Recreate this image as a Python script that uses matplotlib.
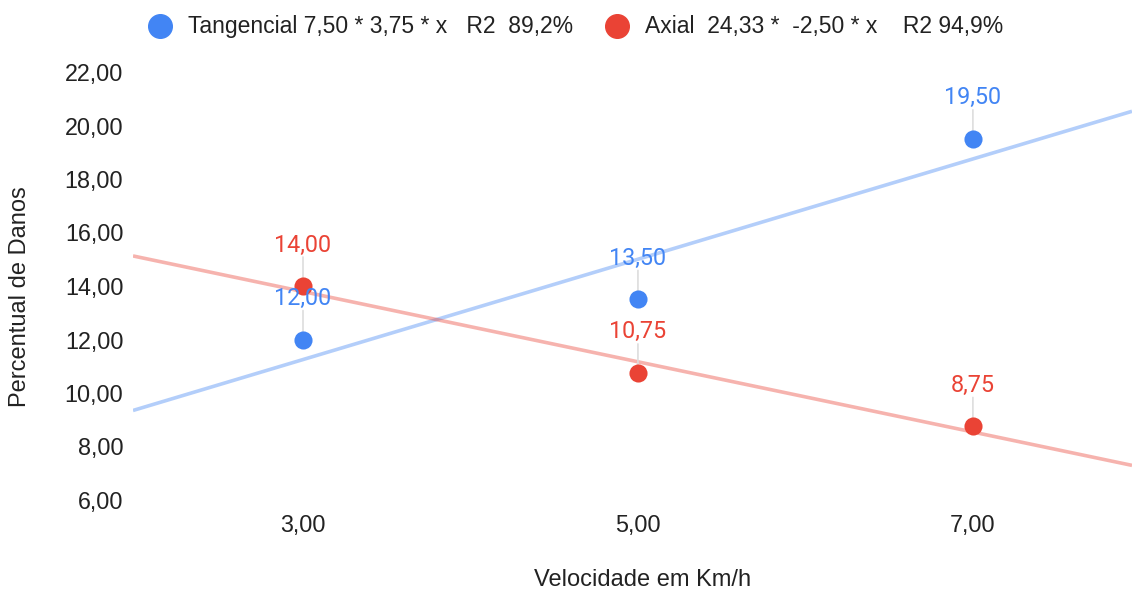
import numpy as np
import matplotlib
matplotlib.use("Agg")
import matplotlib.pyplot as plt
from matplotlib.lines import Line2D

plt.rcParams['font.family'] = ['Liberation Sans', 'DejaVu Sans']

velocidade = [3, 5, 7]
tangencial = [12.00, 13.50, 19.50]
axial = [14.00, 10.75, 8.75]
xticks = [3, 5, 7]
xtick_labels = ["3,00", "5,00", "7,00"]
yticks = [6, 8, 10, 12, 14, 16, 18, 20, 22]
ytick_labels = ["6,00", "8,00", "10,00", "12,00", "14,00", "16,00", "18,00", "20,00", "22,00"]
legend_labels = ["Tangencial 7,50 * 3,75 * x   R2  89,2%", "Axial  24,33 *  -2,50 * x    R2 94,9%"]

BLUE = "#4285F4"
RED = "#EA4335"
TXT = "#222222"

fig = plt.figure(figsize=(11.32, 5.91), dpi=100)
ax = fig.add_axes([133/1132, 91/591, 1 - 133/1132, (500-72)/591])
xmin, xmax = 1.985, 7.95
ax.set_xlim(xmin, xmax)
ax.set_ylim(6, 22)

xx = np.array([xmin, xmax])
for ys, col in [(tangencial, BLUE), (axial, RED)]:
    m, b = np.polyfit(velocidade, ys, 1)
    ax.plot(xx, m*xx + b, color=col, alpha=0.4, lw=2.6, solid_capstyle='butt', zorder=2)

def fmt(v):
    return f"{v:.2f}".replace(".", ",")

for ys, col in [(tangencial, BLUE), (axial, RED)]:
    ax.scatter(velocidade, ys, s=170, color=col, zorder=4, linewidths=0)
    for x, y in zip(velocidade, ys):
        ax.annotate("", xy=(x, y), xytext=(0, 29), textcoords='offset pixels',
                    xycoords='data',
                    arrowprops=dict(arrowstyle='-', color='#dddddd', lw=1.2, shrinkA=0, shrinkB=0),
                    zorder=3)
        ax.annotate(fmt(y), xy=(x, y), xytext=(0, 41), textcoords='offset pixels',
                    ha='center', va='center', color=col, fontsize=16.8, zorder=5,
                    family=['Roboto', 'DejaVu Sans'])

ax.set_xticks(xticks)
ax.set_xticklabels(xtick_labels)
ax.set_yticks(yticks)
ax.set_yticklabels(ytick_labels)
ax.tick_params(axis='both', length=0, labelsize=16.8, colors=TXT)
ax.tick_params(axis='x', pad=10)
ax.tick_params(axis='y', pad=7)
for s in ax.spines.values():
    s.set_visible(False)

fig.text(643/1132, 1 - 580/591, "Velocidade em Km/h", ha='center', va='center', fontsize=17, color=TXT)
fig.text(20/1132, 1 - 297/591, "Percentual de Danos", ha='center', va='center', fontsize=17, color=TXT, rotation=90)

# legend (manual placement)
leg_y = 1 - 26/591
for (mx, tx), col, lab in zip([(160, 188), (617, 645)], [BLUE, RED], legend_labels):
    fig.add_artist(Line2D([mx/1132], [leg_y], marker='o', ls='none', color=col, markersize=17,
                          transform=fig.transFigure))
    fig.text(tx/1132, leg_y, lab, ha='left', va='center', fontsize=16.5, color=TXT)

fig.savefig("out.png", dpi=100)
